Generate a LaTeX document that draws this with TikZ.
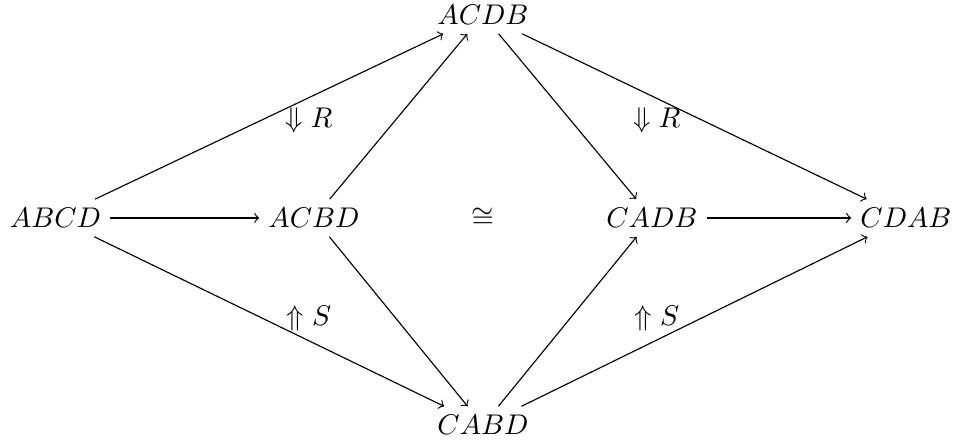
\documentclass[tikz,border=0pt]{standalone}
\usepackage{amsmath,amssymb}
\usetikzlibrary{arrows.meta,positioning}
\tikzset{
  >=to,
  obj/.style={inner sep=3pt,font=\normalsize},
  mor/.style={->,thin,draw=black},
  cell/.style={inner sep=1pt,font=\normalsize},
}
\begin{document}
\begin{tikzpicture}
  \useasboundingbox (0,0) rectangle (11.914,5.469);
  % objects
  \node[obj] (abcd) at (0.685,2.778) {$ABCD$};
  \node[obj] (acbd) at (3.877,2.778) {$ACBD$};
  \node[obj] (acdb) at (5.963,5.284) {$ACDB$};
  \node[obj] (cabd) at (5.963,0.22) {$CABD$};
  \node[obj] (cadb) at (8.049,2.778) {$CADB$};
  \node[obj] (cdab) at (11.185,2.778) {$CDAB$};
  \node (iso) at (5.963,2.778) {$\cong$};
  % 2-cells
  \node[cell] (rl) at (3.815,3.988) {$\Downarrow R$};
  \node[cell] (rr) at (8.111,3.988) {$\Downarrow R$};
  \node[cell] (sl) at (3.815,1.543) {$\Uparrow S$};
  \node[cell] (sr) at (8.111,1.543) {$\Uparrow S$};
  % morphisms
  \draw[mor] (abcd) -- (acbd);
  \draw[mor] (abcd) -- (acdb);
  \draw[mor] (abcd) -- (cabd);
  \draw[mor] (acbd) -- (acdb);
  \draw[mor] (acbd) -- (cabd);
  \draw[mor] (acdb) -- (cadb);
  \draw[mor] (acdb) -- (cdab);
  \draw[mor] (cabd) -- (cadb);
  \draw[mor] (cabd) -- (cdab);
  \draw[mor] (cadb) -- (cdab);
\end{tikzpicture}
\end{document}
